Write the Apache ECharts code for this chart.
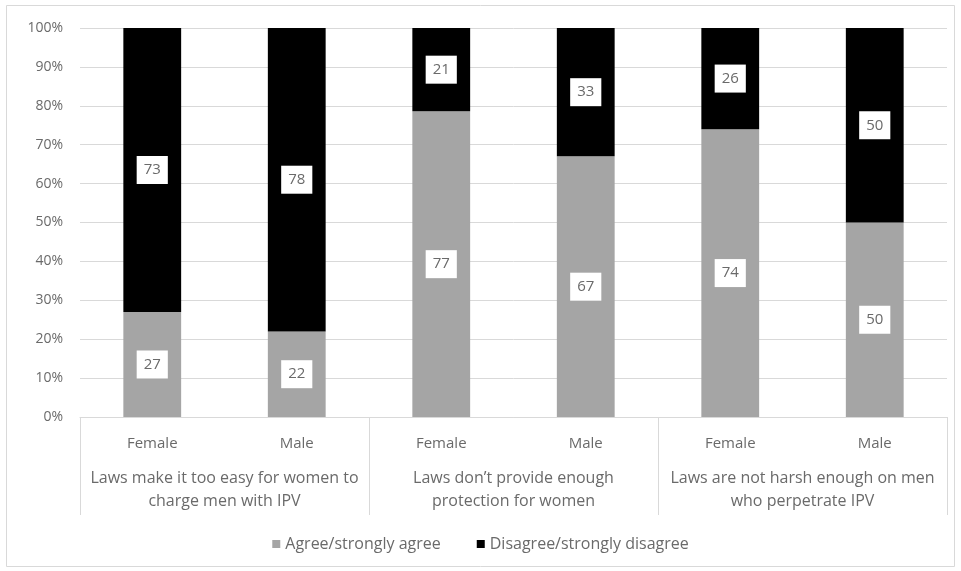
<!DOCTYPE html>
<html>
<head>
<meta charset="utf-8">
<script src="https://cdn.jsdelivr.net/npm/echarts@6/dist/echarts.min.js"></script>
<style>
html,body{margin:0;padding:0;background:#fff;}
#chart{width:961px;height:571px;}
</style>
</head>
<body>
<div id="chart"></div>
<script>
const categories = ['Female', 'Male', 'Female', 'Male', 'Female', 'Male'];
const groups = [
  'Laws make it too easy for women to\ncharge men with IPV',
  'Laws don\u2019t provide enough\nprotection for women',
  'Laws are not harsh enough on men\nwho perpetrate IPV'
];
const seriesNames = ['Agree/strongly agree', 'Disagree/strongly disagree'];
const agree = [27, 22, 77, 67, 74, 50];
const disagree = [73, 78, 21, 33, 26, 50];
const yTicks = [0, 10, 20, 30, 40, 50, 60, 70, 80, 90, 100];

const totals = agree.map((a, i) => a + disagree[i]);
const toPct = arr => arr.map((v, i) => ({ value: v / totals[i] * 100, raw: v }));

const FONT = 'Open Sans';
const TXT = '#6a6a6a';
const GRID = '#d9d9d9';

const labelStyle = {
  show: true,
  position: 'inside',
  formatter: p => String(p.data.raw),
  backgroundColor: '#ffffff',
  color: TXT,
  fontFamily: FONT,
  fontSize: 15,
  padding: [7, 7, 6, 7]
};

const chart = echarts.init(document.getElementById('chart'));
chart.setOption({
  animation: false,
  backgroundColor: '#ffffff',
  textStyle: { fontFamily: FONT },
  graphic: [{
    type: 'rect',
    shape: { x: 6.5, y: 5.5, width: 948, height: 561 },
    style: { fill: 'none', stroke: GRID, lineWidth: 1 },
    silent: true
  }],
  grid: { left: 80, right: 14, top: 28, bottom: 154, containLabel: false },
  legend: {
    data: seriesNames,
    top: 531,
    left: 'center',
    itemWidth: 8,
    itemHeight: 8,
    itemGap: 36,
    icon: 'rect',
    textStyle: { color: TXT, fontFamily: FONT, fontSize: 16 }
  },
  xAxis: [{
    type: 'category',
    data: categories,
    position: 'bottom',
    axisLine: { show: true, lineStyle: { color: GRID } },
    axisTick: { show: false },
    axisLabel: { color: TXT, fontFamily: FONT, fontSize: 15, margin: 19 }
  }, {
    type: 'category',
    data: groups,
    position: 'bottom',
    axisLine: { show: false },
    axisTick: { show: true, interval: 0, length: 98, lineStyle: { color: GRID } },
    axisLabel: { color: TXT, fontFamily: FONT, fontSize: 16, margin: 50, lineHeight: 23, interval: 0 }
  }],
  yAxis: {
    type: 'value',
    min: 0,
    max: 100,
    interval: 10,
    axisLine: { show: false },
    axisTick: { show: false },
    splitLine: { lineStyle: { color: GRID } },
    axisLabel: {
      color: TXT, fontFamily: FONT, fontSize: 14, margin: 17,
      formatter: v => yTicks.includes(v) ? v + '%' : ''
    }
  },
  series: [{
    name: seriesNames[0],
    type: 'bar',
    stack: 'total',
    xAxisIndex: 0,
    barWidth: '40%',
    itemStyle: { color: '#a5a5a5' },
    label: labelStyle,
    data: toPct(agree)
  }, {
    name: seriesNames[1],
    type: 'bar',
    stack: 'total',
    xAxisIndex: 0,
    barWidth: '40%',
    itemStyle: { color: '#000000' },
    label: labelStyle,
    data: toPct(disagree)
  }]
});
</script>
</body>
</html>
